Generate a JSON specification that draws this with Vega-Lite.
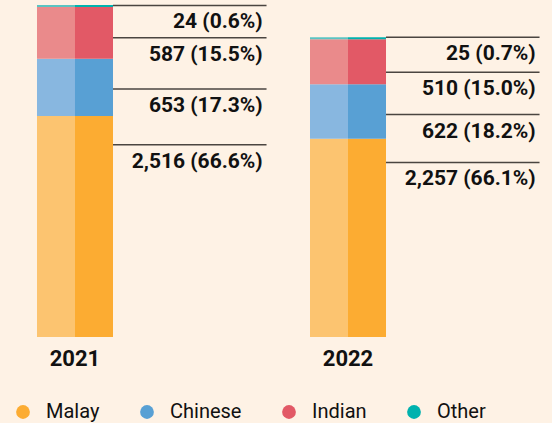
{
  "$schema": "https://vega.github.io/schema/vega-lite/v6.json",
  "width": 423,
  "height": 332,
  "autosize": "none",
  "padding": {"left": 0, "top": 5, "right": 129, "bottom": 86},
  "background": "#FEF2E5",
  "config": {
    "view": {"stroke": null},
    "font": "Roboto",
    "axisX": {"title": null, "domain": false, "ticks": false, "labelFontSize": 22, "labelFontWeight": "bold", "labelColor": "#111111", "labelPadding": 11, "labelAngle": 0, "labelFont": "Roboto"}
  },
  "datasets": {
    "groups": [
      {"year": "2021", "ethnicity": "Malay", "count": 2516},
      {"year": "2021", "ethnicity": "Chinese", "count": 653},
      {"year": "2021", "ethnicity": "Indian", "count": 587},
      {"year": "2021", "ethnicity": "Other", "count": 24},
      {"year": "2022", "ethnicity": "Malay", "count": 2257},
      {"year": "2022", "ethnicity": "Chinese", "count": 622},
      {"year": "2022", "ethnicity": "Indian", "count": 510},
      {"year": "2022", "ethnicity": "Other", "count": 25}
    ],
    "notes": [
      {"year": "2021", "at": 3775, "label": "24 (0.6%)"},
      {"year": "2021", "at": 3408, "label": "587 (15.5%)"},
      {"year": "2021", "at": 2825, "label": "653 (17.3%)"},
      {"year": "2021", "at": 2188, "label": "2,516 (66.6%)"},
      {"year": "2022", "at": 3413, "label": "25 (0.7%)"},
      {"year": "2022", "at": 3015, "label": "510 (15.0%)"},
      {"year": "2022", "at": 2533, "label": "622 (18.2%)"},
      {"year": "2022", "at": 1987, "label": "2,257 (66.1%)"}
    ]
  },
  "layer": [
    {
      "data": {"name": "groups"},
      "transform": [{"stack": "count", "groupby": ["year"], "sort": [{"field": "count", "order": "descending"}], "as": ["y0", "y1"]}],
      "mark": {"type": "bar"},
      "encoding": {
        "x": {"field": "year", "type": "nominal", "bandPosition": 0, "scale": {"paddingInner": 0.7216, "paddingOuter": 0.1355}},
        "x2": {"field": "year", "bandPosition": 0.5},
        "y": {"field": "y0", "type": "quantitative", "axis": null, "scale": {"domain": [0, 3780], "nice": false}},
        "y2": {"field": "y1"},
        "color": {"field": "ethnicity", "type": "nominal", "legend": null, "scale": {"domain": ["Malay", "Chinese", "Indian", "Other"], "range": ["#FCC470", "#88B7E0", "#EA8A8B", "#5BC4C2"]}}
      }
    },
    {
      "data": {"name": "groups"},
      "transform": [{"stack": "count", "groupby": ["year"], "sort": [{"field": "count", "order": "descending"}], "as": ["y0", "y1"]}],
      "mark": {"type": "bar"},
      "encoding": {
        "x": {"field": "year", "type": "nominal", "bandPosition": 0.5},
        "x2": {"field": "year", "bandPosition": 1},
        "y": {"field": "y0", "type": "quantitative"},
        "y2": {"field": "y1"},
        "color": {"field": "ethnicity", "type": "nominal", "scale": {"domain": ["Malay", "Chinese", "Indian", "Other"], "range": ["#FCAC32", "#58A0D4", "#E25966", "#00B2AE"]},
          "legend": {"title": null, "orient": "none", "legendX": 13, "legendY": 397, "direction": "horizontal", "symbolType": "circle", "symbolSize": 190, "symbolStrokeWidth": 0, "symbolOpacity": 1, "labelFontSize": 20, "labelFont": "Roboto", "labelColor": "#111111", "labelOffset": 13, "columnPadding": 37, "padding": 0, "labelLimit": 200}}
      }
    },
    {
      "data": {"name": "notes"},
      "mark": {"type": "rule", "color": "#4a4540", "strokeWidth": 1.5},
      "encoding": {
        "x": {"field": "year", "type": "nominal", "bandPosition": 1},
        "x2": {"field": "year", "bandPosition": 3.02},
        "y": {"field": "at", "type": "quantitative"}
      }
    },
    {
      "data": {"name": "notes"},
      "mark": {"type": "text", "align": "right", "baseline": "middle", "dy": 17, "fontSize": 21, "fontWeight": "bold", "font": "Roboto", "color": "#111111"},
      "encoding": {
        "x": {"field": "year", "type": "nominal", "bandPosition": 2.97},
        "y": {"field": "at", "type": "quantitative"},
        "text": {"field": "label"}
      }
    }
  ],
  "resolve": {"scale": {"color": "independent"}, "legend": {"color": "independent"}}
}
